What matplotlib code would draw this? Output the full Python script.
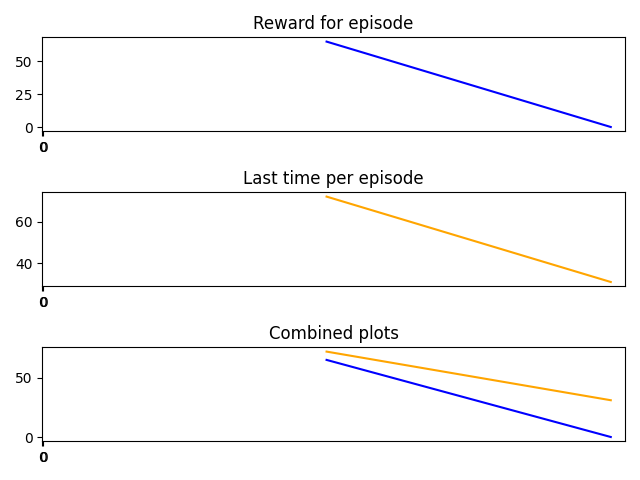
import matplotlib
matplotlib.use('Agg')
import matplotlib.pyplot as plt

## data
episodes = [1, 2]
rewards = [65, 0]
last_times = [72, 31]

fig = plt.figure(figsize=(6.4, 4.8), dpi=100)

ax1 = fig.add_subplot(3, 1, 1)
ax1.plot(episodes, rewards, color='blue')
ax1.set_title('Reward for episode')

ax2 = fig.add_subplot(3, 1, 2)
ax2.plot(episodes, last_times, color='orange')
ax2.set_title('Last time per episode')

ax3 = fig.add_subplot(3, 1, 3)
ax3.plot(episodes, rewards, color='blue')
ax3.plot(episodes, last_times, color='orange')
ax3.set_title('Combined plots')

# x axis squashed to the left, ticks all read "0"
for ax in (ax1, ax2, ax3):
    ax.set_xlim(left=0)
    ax.set_xticks([0, 0.004])
    ax.set_xticklabels(['0', '0'])

plt.tight_layout()
plt.savefig('out.png')
plt.close()
